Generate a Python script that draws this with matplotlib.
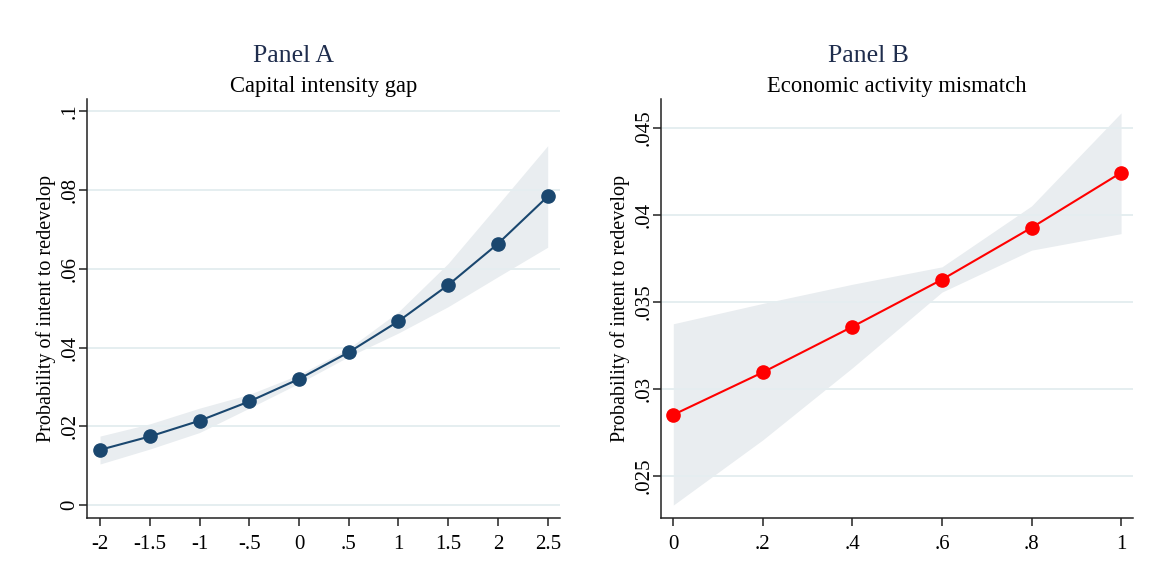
import matplotlib
matplotlib.use("Agg")
import matplotlib.pyplot as plt

plt.rcParams['font.family'] = ['Liberation Serif', 'DejaVu Serif']

# Panel A: capital intensity gap
gap_x = [-2, -1.5, -1, -0.5, 0, 0.5, 1, 1.5, 2, 2.5]
gap_p = [0.0140, 0.0174, 0.0214, 0.0263, 0.0320, 0.0388, 0.0467, 0.0559, 0.0664, 0.0784]
gap_lo = [0.0104, 0.0142, 0.0184, 0.0246, 0.0309, 0.0377, 0.0437, 0.0504, 0.0580, 0.0655]
gap_hi = [0.0175, 0.0206, 0.0246, 0.0281, 0.0331, 0.0398, 0.0491, 0.0614, 0.0763, 0.0913]
gap_xticks = [-2, -1.5, -1, -0.5, 0, 0.5, 1, 1.5, 2, 2.5]
gap_xlabels = ['-2', '-1.5', '-1', '-.5', '0', '.5', '1', '1.5', '2', '2.5']
gap_yticks = [0, 0.02, 0.04, 0.06, 0.08, 0.1]
gap_ylabels = ['0', '.02', '.04', '.06', '.08', '.1']

# Panel B: economic activity mismatch
mis_x = [0, 0.2, 0.4, 0.6, 0.8, 1.0]
mis_p = [0.02850, 0.03094, 0.03356, 0.03627, 0.03925, 0.04241]
mis_lo = [0.02331, 0.02706, 0.03120, 0.03555, 0.03796, 0.03891]
mis_hi = [0.03373, 0.03490, 0.03600, 0.03700, 0.04050, 0.04585]
mis_xticks = [0, 0.2, 0.4, 0.6, 0.8, 1.0]
mis_xlabels = ['0', '.2', '.4', '.6', '.8', '1']
mis_yticks = [0.025, 0.03, 0.035, 0.04, 0.045]
mis_ylabels = ['.025', '.03', '.035', '.04', '.045']

band_col = '#e9edf0'
grid_col = '#e5eef0'
ylab = 'Probability of intent to redevelop'

fig = plt.figure(figsize=(11.59, 5.81), dpi=100)
axA = fig.add_axes([0.0748, 0.1079, 0.4084, 0.7212])
axB = fig.add_axes([0.5701, 0.1079, 0.4078, 0.7212])


def style(ax, xt, xl, yt, yl, xlim, ylim):
    ax.set_xlim(*xlim)
    ax.set_ylim(*ylim)
    ax.set_xticks(xt)
    ax.set_xticklabels(xl, fontsize=15)
    ax.set_yticks(yt)
    ax.set_yticklabels(yl, fontsize=15, rotation=90, va='center')
    for s in ['top', 'right']:
        ax.spines[s].set_visible(False)
    for s in ['left', 'bottom']:
        ax.spines[s].set_linewidth(1.1)
        ax.spines[s].set_color('#222222')
    ax.tick_params(length=6, width=1.1, color='#222222')
    ax.tick_params(axis='x', pad=6)
    ax.tick_params(axis='y', pad=-1)
    ax.set_axisbelow(True)
    ax.grid(axis='y', color=grid_col, linewidth=1.4)
    ax.set_ylabel(ylab, fontsize=14.5)
    ax.yaxis.set_label_coords(-0.064, 0.5)


axA.fill_between(gap_x, gap_lo, gap_hi, color=band_col, linewidth=0, zorder=0.3)
axA.plot(gap_x, gap_p, color='#1a476f', linewidth=1.5, marker='o', markersize=9.5, zorder=3)
style(axA, gap_xticks, gap_xlabels, gap_yticks, gap_ylabels, (-2.134, 2.624), (-0.0034, 0.1031))

axB.fill_between(mis_x, mis_lo, mis_hi, color=band_col, linewidth=0, zorder=0.3)
axB.plot(mis_x, mis_p, color='#ff0000', linewidth=1.5, marker='o', markersize=9.5, zorder=3)
style(axB, mis_xticks, mis_xlabels, mis_yticks, mis_ylabels, (-0.028, 1.0275), (0.02255, 0.04663))

fig.text(0.253, 0.8928, 'Panel A', ha='center', va='baseline', fontsize=18.5, color='#1f2d4d')
fig.text(0.749, 0.8928, 'Panel B', ha='center', va='baseline', fontsize=18.5, color='#1f2d4d')
fig.text(0.279, 0.8422, 'Capital intensity gap', ha='center', va='baseline', fontsize=16.3)
fig.text(0.774, 0.8422, 'Economic activity mismatch', ha='center', va='baseline', fontsize=16.3)

fig.savefig('out.png', dpi=100, facecolor='white')
